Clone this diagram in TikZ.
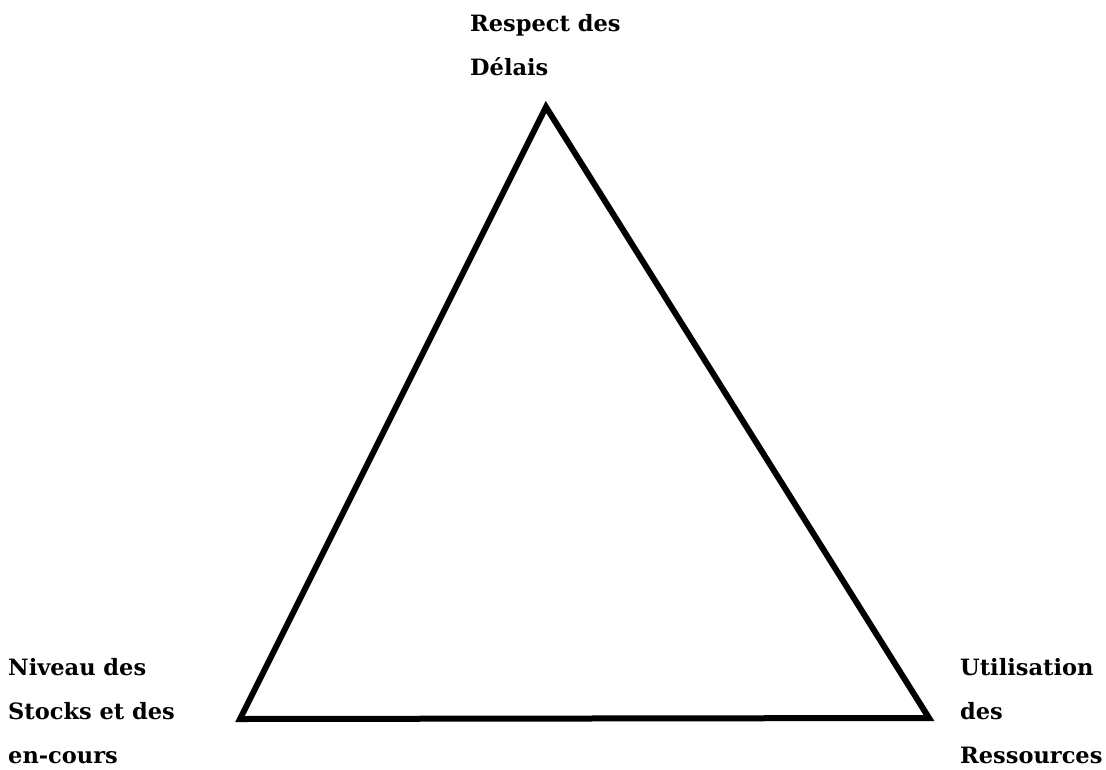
\documentclass[tikz,border=0pt]{standalone}
\usepackage{fontspec}
\setmainfont{DejaVu Serif}
\usepackage{tikz}
\usetikzlibrary{positioning}

\begin{document}
\begin{tikzpicture}[
      x=1pt, y=-1pt,
      critere/.style={font=\bfseries\fontsize{22.5}{44}\selectfont, align=left,
        anchor=base west, inner sep=0pt},
      cote/.style={line width=6pt, line join=miter}
    ]
      \useasboundingbox (0,0) rectangle (1106,769);
      % Sommets du triangle
      \coordinate (sommet) at (546,107);
      \coordinate (gauche) at (240,719);
      \coordinate (droite) at (929,718);
      \draw[cote] (sommet) -- (droite) -- (gauche) -- cycle;
      % Les trois criteres (ancre sur la derniere ligne)
      \node[critere] (delais) at (470,75) {Respect des\\Délais};
      \node[critere] (stocks) at (8,763) {Niveau des\\Stocks et des\\en-cours};
      \node[critere] (ressources) at (960,763) {Utilisation\\des\\Ressources};
    \end{tikzpicture}
\end{document}
